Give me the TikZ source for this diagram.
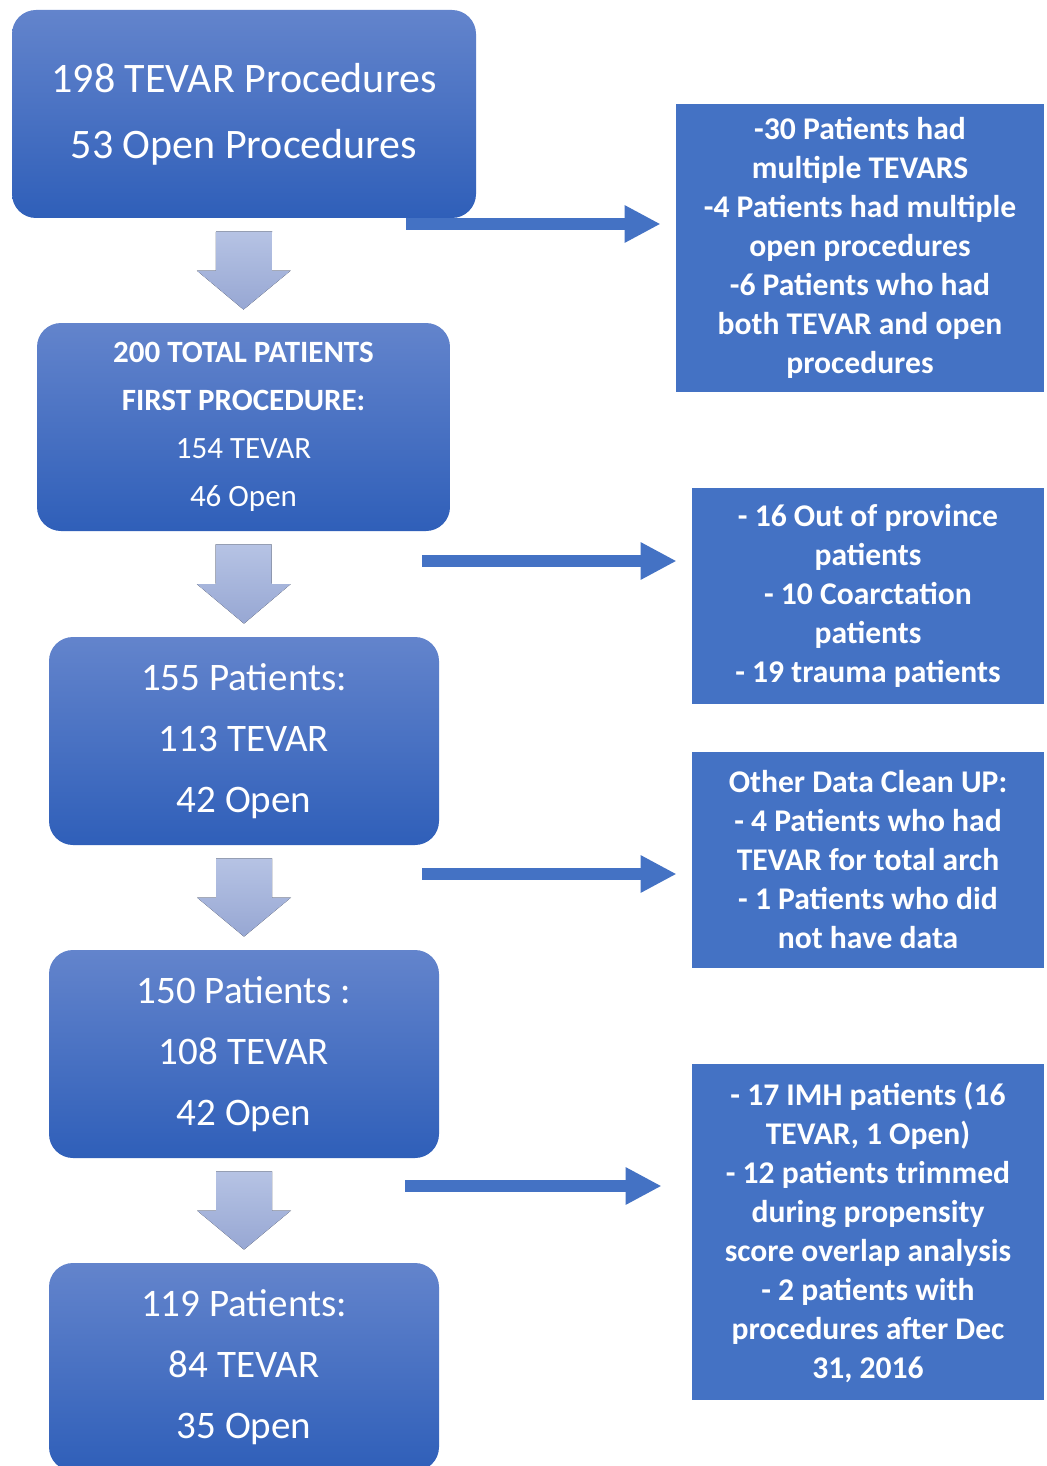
\documentclass[tikz,border=0pt]{standalone}
\usepackage{fontspec}
\setmainfont{Carlito}
\usetikzlibrary{arrows.meta,calc}
\definecolor{stageTop}{HTML}{6384CC}
\definecolor{stageBottom}{HTML}{2F5FB9}
\definecolor{exclBlue}{HTML}{4472C4}
\definecolor{downTop}{HTML}{B6C3E4}
\definecolor{downBottom}{HTML}{97A7D3}
\tikzset{%
  >={Triangle[length=18pt,width=17.5pt]},
  % Specifications for style of nodes:
       stage/.style = {rectangle, rounded corners=12pt, top color=stageTop,
                       bottom color=stageBottom, minimum height=104pt,
                       inner sep=0pt, text=white, align=center},
   stageMain/.style = {stage, font=\fontsize{19.5}{30.5}\selectfont},
   exclusion/.style = {rectangle, fill=exclBlue, inner sep=0pt, text=white,
                       align=center, font=\bfseries\fontsize{15.8}{19.5}\selectfont},
   exclArrow/.style = {->, draw=exclBlue, line width=6pt, shorten >=7.5pt},
   downArrow/.style = {top color=downTop, bottom color=downBottom},
}

\begin{document}
\begin{tikzpicture}[x=0.5pt, y=-0.5pt]
  \fill[white] (0,0) rectangle (1047,1466);
  \useasboundingbox (0,0) rectangle (1047,1466);

  % Specification of nodes (position, etc.)
  \node (b1) [stage, minimum width=232pt, font=\fontsize{21}{33}\selectfont] at (244,114)
             {198 TEVAR Procedures\\53 Open Procedures};
  \node (b2) [stage, minimum width=206.5pt, font=\fontsize{15.5}{24}\selectfont] at (243.5,427)
             {\textbf{200 TOTAL PATIENTS}\\\textbf{FIRST PROCEDURE:}\\154 TEVAR\\46 Open};
  \node (b3) [stageMain, minimum width=195pt] at (244,741)
             {155 Patients:\\113 TEVAR\\42 Open};
  \node (b4) [stageMain, minimum width=195pt] at (244,1054)
             {150 Patients :\\108 TEVAR\\42 Open};
  \node (b5) [stageMain, minimum width=195pt] at (244,1367)
             {119 Patients:\\84 TEVAR\\35 Open};

  \node (r1) [exclusion, minimum width=184pt, minimum height=144pt] at (860,248)
             {-30 Patients had\\multiple TEVARS\\-4 Patients had multiple\\open procedures\\
              -6 Patients who had\\both TEVAR and open\\procedures};
  \node (r2) [exclusion, minimum width=176pt, minimum height=108pt] at (868,596)
             {- 16 Out of province\\patients\\- 10 Coarctation\\patients\\- 19 trauma patients};
  \node (r3) [exclusion, minimum width=176pt, minimum height=108pt] at (868,860)
             {Other Data Clean UP:\\- 4 Patients who had\\TEVAR for total arch\\
              - 1 Patients who did\\not have data};
  \node (r4) [exclusion, minimum width=176pt, minimum height=168pt] at (868,1232)
             {- 17 IMH patients (16\\TEVAR, 1 Open)\\- 12 patients trimmed\\during propensity\\
              score overlap analysis\\- 2 patients with\\procedures after Dec\\31, 2016};

  % block arrows between the stages
  \foreach \fromStage/\toStage in {b1/b2, b2/b3, b3/b4, b4/b5} {
    \path ([yshift=-6.5pt]\fromStage.south) coordinate (dTop)
          ([yshift=6.5pt]\toStage.north)    coordinate (dTip)
          ($(dTop)!0.5!(dTip)$)             coordinate (dMid);
    \fill[downArrow] ([xshift=-14pt]dTop) -- ([xshift=14pt]dTop)
          -- ([xshift=14pt]dMid) -- ([xshift=23.5pt]dMid) -- (dTip)
          -- ([xshift=-23.5pt]dMid) -- ([xshift=-14pt]dMid) -- cycle;
  }

  % arrows to the excluded patients
  \coordinate (x1) at (406,224);
  \coordinate (x2) at (422,561);
  \coordinate (x3) at (422,874);
  \coordinate (x4) at (405,1186);
  \draw[exclArrow] (x1) -- (x1 -| r1.west);
  \draw[exclArrow] (x2) -- (x2 -| r2.west);
  \draw[exclArrow] (x3) -- (x3 -| r3.west);
  \draw[exclArrow, shorten >=15pt] (x4) -- (x4 -| r4.west);
\end{tikzpicture}
\end{document}
